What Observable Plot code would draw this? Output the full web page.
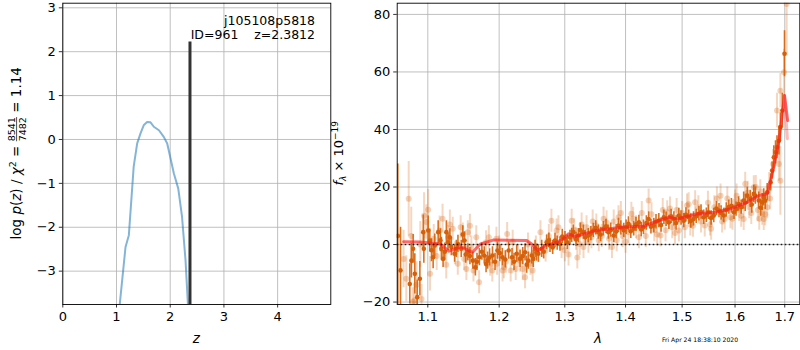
<!DOCTYPE html>
<html><head><meta charset="utf-8">
<script src="https://cdn.jsdelivr.net/npm/d3@7"></script>
<script src="https://cdn.jsdelivr.net/npm/@observablehq/plot@0.6"></script>
<style>
body{margin:0;background:#fff;}
#wrap{position:relative;width:800px;height:350px;font-family:"DejaVu Sans",sans-serif;}
#wrap svg{position:absolute;top:0;overflow:visible;}
text{white-space:pre;}
</style></head><body><div id="wrap"></div>
<script>
// ---------- left panel data: log p(z) ----------
const pzZ    = [1.03, 1.06, 1.168, 1.23, 1.32, 1.385, 1.447, 1.51, 1.57, 1.633, 1.695, 1.79, 1.88, 1.944, 2.0, 2.067, 2.15, 2.22, 2.285, 2.33, 2.35];
const pzLogp = [-4.3, -3.76, -2.45, -2.18, -0.62, -0.09, 0.14, 0.33, 0.40, 0.39, 0.29, 0.21, 0.06, -0.09, -0.40, -0.77, -1.12, -1.76, -2.75, -3.76, -4.3];
const peakZ = [2.368];
const peakLogp = [2.22];
const zTicks = [0, 1, 2, 3, 4];
const lpTicks = [-3, -2, -1, 0, 1, 2, 3];
const fieldName = "j105108p5818";
const idLine = "ID=961    z=2.3812";

// ---------- right panel data: spectrum ----------
const darkLam = [1.0605,1.064,1.0761,1.0782,1.0805,1.0827,1.0859,1.0894,1.0939,1.0947,1.1005,1.1027,1.1072,1.1094,1.114,1.1184,1.1207,1.1252,1.1275,1.132,1.1366,1.1412,1.1458,1.1504,1.1551,1.1621,1.1657,1.1714,1.1784,1.1832,1.1903,1.1975,1.2047,1.214,1.219,1.226,1.231,1.2385,1.2435,1.2486,1.2537,1.2588,1.2639,1.2716,1.2768,1.2846,1.2924,1.3003,1.3083,1.3136,1.3216,1.3297,1.3378,1.346,1.3543,1.3626,1.371,1.38,1.388,1.397,1.405,1.414,1.423,1.431,1.44,1.449,1.458,1.467,1.476,1.485,1.494,1.503,1.512,1.521,1.531,1.54,1.549,1.559,1.569,1.578,1.588,1.598,1.607,1.617,1.624,1.630,1.637,1.647,1.654,1.657,1.664,1.671,1.674,1.6775,1.681,1.684,1.688,1.691,1.695,1.6995,
  1.105,1.117,1.123,1.13,1.139,1.148,1.152,1.158,1.168,1.175,1.181,1.186,1.194,1.201,1.209,1.222,1.235,1.241,1.251,1.256,
  1.267,1.275,1.281,1.288,1.296,1.304,1.311,1.318,1.325,1.333,1.342,1.35,1.358,1.367,1.375,1.384,1.392,1.401,1.409,1.418,1.427,1.436,1.444,1.453,1.462,1.471,1.48,1.489,1.498,1.507,1.516,1.526,1.535,1.545,1.554,1.564,1.573,1.583,1.593,1.602,1.612,1.62,1.633,1.640,1.651,1.66];
const darkFlux = [3,-9,-13.7,-5.6,-1.5,-10.2,-18.3,-11.9,4.3,-1.5,4.9,1.4,-4.4,-0.3,4.3,-1.5,-5.0,4.3,0.8,-0.9,-3.2,0.2,-1.5,1.4,-2.7,-5.6,-7.9,-4.4,-3.8,-5.6,-3.8,-2.1,-4.4,-2.1,-4.4,-3.2,-5.0,-2.7,-5.6,-3.8,-1.5,-3.2,-1.5,0.8,-0.3,1.4,0.2,2.0,2.5,4.3,3.1,4.3,3.1,4.9,4.3,5.5,4.3,3.1,6.6,4.9,7.2,5.5,7.7,6.0,8.9,6.6,8.3,9.5,7.7,8.9,10.1,8.3,9.5,8.9,10.7,9.5,11.2,10.1,11.8,10.1,13.0,11.2,14.1,15.3,17.0,15.9,17.6,15.3,14.7,16.4,18.2,21.6,25.7,30.3,32.1,33.8,36.1,40.8,46.6,66.3,
  -2,1.5,-2.5,2.5,-1.5,3.5,-3.5,-4,-6,-2.5,-6.8,-4.5,-6,-3,-5.2,-6,-4,-7,-5,-2.8,
  -2.5,1.5,-1,0.5,2.8,0.8,3.2,1.8,5,2.5,3.8,5.8,3.5,6.3,5,4.5,5.8,6,4.6,7,5.2,7.5,6.2,7.9,6.8,8.8,9.8,7.5,9.2,10.3,8.2,9.8,11.3,10.2,9.2,12.5,11,12,13.5,12.3,13,14.5,13.9,17,12.8,15.2];
const darkErr  = [25,15,7,6,5,7,6,6,6,5,5,4,4,4,4,4,3,4,3,3,3,3,3,3,3,3,3,3,3,3,3,3,3,3,3,3,3,3,3,3,3,3,3,2.5,2.5,2.5,2.5,2.5,2.5,2.5,2.5,2.5,2.5,2.5,2.5,2.5,2.5,2.5,2.5,2.5,2.5,2.5,2.5,2.5,2.5,2.5,2.5,2.5,2.5,2.5,2.5,2.5,2.5,2.5,2.5,2.5,2.5,2.5,2.5,2.5,2.5,2.5,2.5,3,3,3,3,3,3,3,3,3,3,4,4,4,5,5,6,8,
  4,4,3,3,3,3,3,3,3,3,3,3,3,3,3,3,3,3,3,3,
  2.5,2.5,2.5,2.5,2.5,2.5,2.5,2.5,2.5,2.5,2.5,2.5,2.5,2.5,2.5,2.5,2.5,2.5,2.5,2.5,2.5,2.5,2.5,2.5,2.5,2.5,2.5,2.5,2.5,2.5,2.5,2.5,2.5,2.5,2.5,2.5,2.5,2.5,2.5,2.5,2.5,3,3,3,3,3];

const lightLam  = [1.0715,1.0747,1.080,1.0916,1.098,1.1005,1.103,1.108,1.116,1.1275,1.134,1.141,1.148,1.153,1.155,1.16,1.167,1.171,1.181,1.187,1.196,1.197,1.205,1.2118,1.207,1.217,1.2245,1.231,1.2385,1.2468,1.255,1.262,1.27,1.279,1.287,1.295,1.306,1.311,1.318,1.324,1.33,1.335,1.343,1.351,1.36,1.368,1.377,1.388,1.395,1.405,1.41,1.418,1.423,1.44,1.45,1.461,1.473,1.482,1.494,1.5,1.509,1.515,1.524,1.535,1.542,1.554,1.56,1.572,1.58,1.591,1.6,1.608,1.617,1.62,1.628,1.637,1.645,1.654,1.657,1.664,1.668,1.676,1.684,1.688,1.691,1.691,1.6985,1.704,
  1.068,1.078,1.082,1.085,1.09,1.095,1.112,1.12,1.125,1.13,1.137,1.145,1.15,1.158,1.163,
  1.185,1.19,1.2,1.21,1.22,1.228,1.235,1.243,1.25,
  1.275,1.29,1.30,1.315,1.32,1.327,1.338,1.345,1.355,1.363,1.372,1.38,1.385,1.392,1.40,1.413,1.428,1.435,1.445,1.455,1.465,1.47,1.478,1.487,1.49,1.505,1.512,1.52,1.53,1.548,1.552,1.565,1.575,1.585,1.595,1.603,1.612,1.625,1.632,1.641,1.648,1.65,1.66,1.67];
const lightFlux = [-11.9,15.9,-20,-18.9,7.8,12.1,-10.2,2,4.9,2.5,5.5,-6.7,3.5,-8.5,4.3,-1,2.5,-13.1,0.8,-7,2.0,-6.7,-9.0,3.7,-7.9,-9.0,-8.5,-5.6,-11.4,-6.7,-1,4.3,-2.1,8.3,4.9,-0.9,-3.5,8.3,2,0.2,-0.9,6.0,2.5,6.6,3,7.7,-0.9,9.5,3,4.3,10.7,6,2.5,15.3,5,3.1,11.2,6,4.9,11,13.6,7,14.7,8,6.6,5.5,13,17.0,9,9.5,15,12,8.9,21.1,13,19.9,12,10.7,8.9,13.0,20,28,46.6,28.0,22.2,53.5,59.9,83.6,
  -5,3,-19.5,-14,0,10,-4,9,-7,7,-3,6,-5,6.5,-9,
  2.5,-9,-1,-6,1,-4,-8.5,0,-9,
  3,6,-2,5,-4.5,7,1,8,1.5,9,2,8,1.5,11,1,9,11,3,10.5,3.5,12,5,12.5,4,12,6,14,6.5,13,14.5,7,16,8,16,9,17,10,18,11,20,9,18.5,10.5,16];
const lightErr  = [8,13,5,5,6,7,6,5,5,4,4,4,4,4,4,4,4,4,4,4,4,4,4,4,4,4,4,4,4,4,4,4,4,4,4,4,4,4,4,4,4,4,4,4,4,4,4,4,4,4,4,4,4,4,4,4,4,4,4,4,4,4,4,4,4,4,4,4,4,4,4,4,4,4,4,4,4,4,4,4,5,5,6,6,12,6,8,18,
  10,10,6,8,8,8,5,5,5,5,4,4,4,4,4,
  4,4,4,4,4,4,4,4,4,
  4,4,4,4,4,4,4,4,4,4,4,4,4,4,4,4,4,4,4,4,4,4,4,4,4,4,4,4,4,4,4,4,4,4,4,4,4,4,4,4,4,4,4,4];

const modelLam  = [1.068,1.09,1.117,1.1286,1.145,1.1617,1.173,1.1923,1.2409,1.2486,1.2588,1.27,1.2871,1.2975,1.3057,1.3164,1.3505,1.3937,1.4323,1.4545,1.476,1.491,1.528,1.562,1.591,1.624,1.647,1.664,1.6775,1.688,1.6995,1.706];
const modelFlux = [1.0,0.9,0.2,-2.3,-0.7,-2.7,0.2,1.6,1.4,0.2,-2.1,-0.3,0.8,2.0,3.7,2.8,4.9,6.0,6.4,8.1,9.5,8.9,10.7,11.2,12.4,14.7,17.0,17.6,26.9,36.1,51.8,43.1];
const modelTailLam  = [1.6995, 1.7055];
const modelTailFlux = [51.8, 36.8];

const lamTicks = [1.1, 1.2, 1.3, 1.4, 1.5, 1.6, 1.7];
const fluxTicks = [-20, 0, 20, 40, 60, 80];
const stamp = "Fri Apr 24 18:38:10 2020";

// ---------- tables ----------
const pz = pzZ.map((z, i) => ({z, lp: pzLogp[i]}));
const peak = peakZ.map((z, i) => ({z, lp: peakLogp[i]}));
const dark = darkLam.map((l, i) => ({l, f: darkFlux[i], e: darkErr[i]}));
const light = lightLam.map((l, i) => ({l, f: lightFlux[i], e: lightErr[i]}));
const model = modelLam.map((l, i) => ({l, f: modelFlux[i]}));
const modelTail = modelTailLam.map((l, i) => ({l, f: modelTailFlux[i]}));

const minus = d => (d < 0 ? "\u2212" + Math.abs(d) : String(d));
const FONT = "DejaVu Sans";
const gridStyle = {stroke: "#b0b0b0", strokeOpacity: 1, strokeWidth: 0.8};
const axisStyle = {tickSize: 3.5, tickPadding: 3.5, fontSize: 13, strokeWidth: 0.8, label: null};
const ORANGE = "#d66009";

const yMinL = -3.76;
const left = Plot.plot({
  width: 332, height: 350,
  marginLeft: 62.3, marginRight: 1.7, marginTop: 2.7, marginBottom: 46,
  style: {fontFamily: FONT, fontSize: "13px", color: "black", background: "transparent"},
  x: {domain: [0, 4.99], label: null},
  y: {domain: [yMinL, 3.105], label: null},
  marks: [
    Plot.gridX(zTicks, gridStyle),
    Plot.gridY(lpTicks, gridStyle),
    Plot.line(pz, {x: "z", y: "lp", stroke: "#1f77b4", strokeOpacity: 0.55, strokeWidth: 2, clip: true}),
    Plot.ruleX(peak, {x: "z", y1: yMinL, y2: "lp", stroke: "#333", strokeWidth: 3}),
    Plot.frame({stroke: "black", strokeWidth: 0.9}),
    Plot.axisX(zTicks, {...axisStyle, tickFormat: minus}),
    Plot.axisY(lpTicks, {...axisStyle, tickFormat: minus})
  ]
});

const right = Plot.plot({
  width: 468, height: 350,
  marginLeft: 64.7, marginRight: 0.7, marginTop: 2.7, marginBottom: 46,
  style: {fontFamily: FONT, fontSize: "13px", color: "black", background: "transparent"},
  x: {type: "log", domain: [1.0597, 1.7315], label: null},
  y: {domain: [-20.85, 83.9], label: null},
  marks: [
    Plot.gridX(lamTicks, gridStyle),
    Plot.gridY(fluxTicks, gridStyle),
    Plot.ruleX(light, {x: "l", y1: d => d.f - d.e, y2: d => d.f + d.e, stroke: ORANGE, strokeOpacity: 0.25, strokeWidth: 2, clip: true}),
    Plot.dot(light, {x: "l", y: "f", r: 3, fill: ORANGE, fillOpacity: 0.28, clip: true}),
    Plot.ruleX(dark, {x: "l", y1: d => d.f - d.e, y2: d => d.f + d.e, stroke: ORANGE, strokeOpacity: 0.9, strokeWidth: 1.6, clip: true}),
    Plot.dot(dark, {x: "l", y: "f", r: 2.3, fill: ORANGE, clip: true}),
    Plot.line(model, {x: "l", y: "f", stroke: "#ff1a1a", strokeOpacity: 0.65, strokeWidth: 3, clip: true}),
    Plot.line(modelTail, {x: "l", y: "f", stroke: "#ff1a1a", strokeOpacity: 0.3, strokeWidth: 3, clip: true}),
    Plot.ruleY([0], {stroke: "black", strokeOpacity: 0.85, strokeWidth: 1.6, strokeDasharray: "1.6,2.4"}),
    Plot.frame({stroke: "black", strokeWidth: 0.9}),
    Plot.axisX(lamTicks, {...axisStyle, tickFormat: d => d.toFixed(1)}),
    Plot.axisY(fluxTicks, {...axisStyle, tickFormat: minus})
  ]
});

const wrap = document.getElementById("wrap");
left.style.left = "0px";
right.style.left = "332px";
wrap.appendChild(left);
wrap.appendChild(right);

// ---------- texts ----------
const L = d3.select(left);
L.append("text").attr("x", 315).attr("y", 25).attr("text-anchor", "end")
  .attr("font-family", FONT).attr("font-size", 12.5).attr("fill", "black").text(fieldName);
L.append("text").attr("x", 315).attr("y", 39).attr("text-anchor", "end")
  .attr("font-family", FONT).attr("font-size", 12.5).attr("fill", "black").text(idLine);
L.append("text").attr("x", 196.3).attr("y", 343).attr("text-anchor", "middle")
  .attr("font-family", FONT).attr("font-size", 13.5).attr("font-style", "italic").attr("fill", "black").text("z");
{
  const g = L.append("g").attr("transform", "translate(21,153.3) rotate(-90)");
  const t = g.append("text").attr("text-anchor", "middle")
    .attr("font-family", FONT).attr("font-size", 13.5).attr("fill", "black");
  t.append("tspan").text("log ");
  t.append("tspan").attr("font-style", "italic").text("p");
  t.append("tspan").text("(");
  t.append("tspan").attr("font-style", "italic").text("z");
  t.append("tspan").text(") / ");
  t.append("tspan").attr("font-style", "italic").text("\u03c7");
  t.append("tspan").attr("font-size", 9.5).attr("dy", -5.5).text("2");
  t.append("tspan").attr("dy", 5.5).text(" = ");
  t.append("tspan").attr("font-size", 9.5).attr("dy", -6.2).text("8541");
  t.append("tspan").attr("font-size", 9.5).attr("dx", -24.2).attr("dy", 10.8).text("7482");
  t.append("tspan").attr("dy", -4.6).text(" = 1.14");
  try {
    const n = t.node();
    const a = n.getStartPositionOfChar(16), b = n.getEndPositionOfChar(19);
    g.append("line").attr("x1", a.x).attr("x2", b.x).attr("y1", -4.4).attr("y2", -4.4)
      .attr("stroke", "black").attr("stroke-width", 0.7);
  } catch (e) {}
}

const R = d3.select(right);
R.append("text").attr("x", 266).attr("y", 343).attr("text-anchor", "middle")
  .attr("font-family", FONT).attr("font-size", 13.5).attr("font-style", "italic").attr("fill", "black").text("\u03bb");
{
  const g = R.append("g").attr("transform", "translate(11,153.3) rotate(-90)");
  const t = g.append("text").attr("text-anchor", "middle")
    .attr("font-family", FONT).attr("font-size", 13).attr("fill", "black");
  t.append("tspan").attr("font-style", "italic").text("f");
  t.append("tspan").attr("font-size", 9).attr("font-style", "italic").attr("dy", 3).text("\u03bb");
  t.append("tspan").attr("dy", -3).text(" \u00d7 10");
  t.append("tspan").attr("font-size", 9).attr("dy", -5.5).text("\u221219");
}
R.append("text").attr("x", 368).attr("y", 342).attr("font-family", FONT).attr("font-size", 6.1)
  .attr("fill", "black").text(stamp);
</script></body></html>
